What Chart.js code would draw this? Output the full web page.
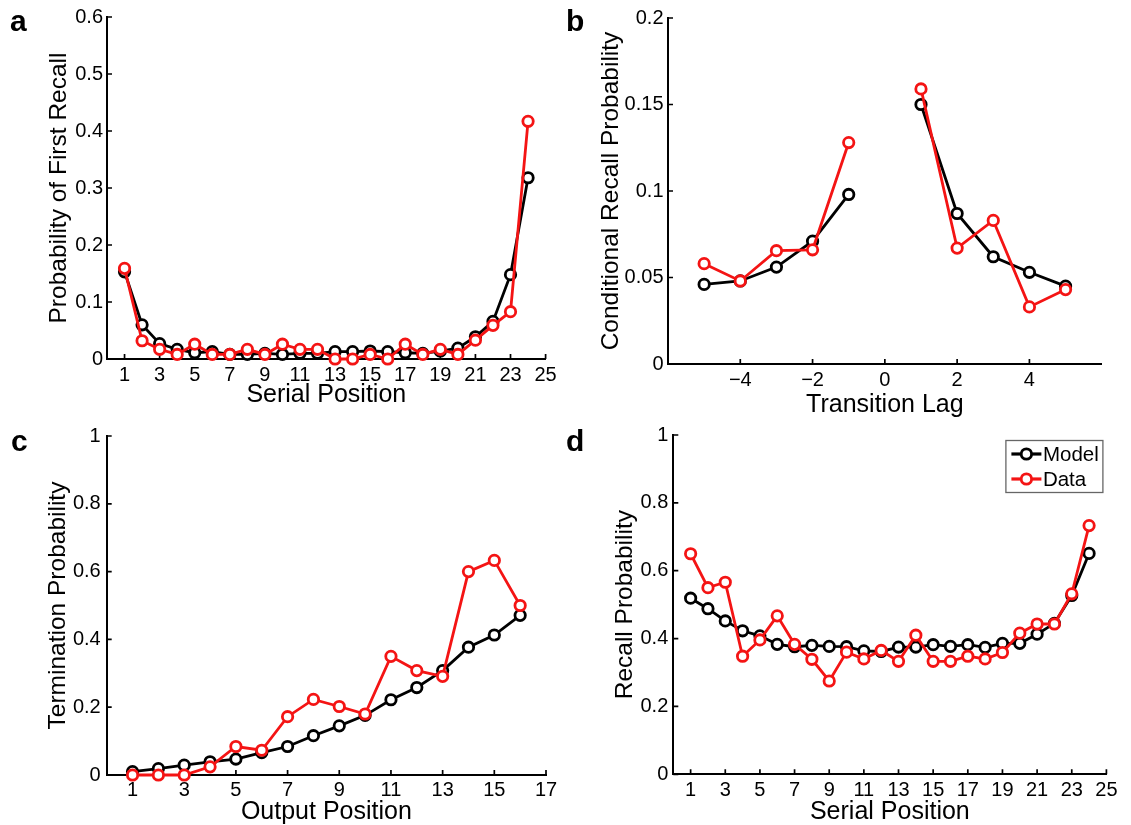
<!DOCTYPE html>
<html><head><meta charset="utf-8">
<script src="https://cdn.jsdelivr.net/npm/chart.js@4.4.1/dist/chart.umd.min.js"></script>
<style>
html,body{margin:0;padding:0;background:#fff;}
#wrap{position:relative;width:1131px;height:825px;overflow:hidden;background:#fff;}
canvas{position:absolute;}
.lbl{position:absolute;font:bold 30px "Liberation Sans",Arial,sans-serif;line-height:30px;color:#000;}
</style></head><body>
<div id="wrap">
<canvas id="ca" width="565" height="420" style="left:0;top:0"></canvas>
<canvas id="cb" width="566" height="420" style="left:565px;top:0"></canvas>
<canvas id="cc" width="565" height="405" style="left:0;top:420px"></canvas>
<canvas id="cd" width="566" height="405" style="left:565px;top:420px"></canvas>
<div class="lbl" style="left:10px;top:6px">a</div>
<div class="lbl" style="left:566px;top:6px">b</div>
<div class="lbl" style="left:11px;top:426px">c</div>
<div class="lbl" style="left:566px;top:426px">d</div>
</div>
<script>
// ---------- data ----------
const seriesNames = ['Model', 'Data'];

// Panel a: probability of first recall
const serialPos = [1,2,3,4,5,6,7,8,9,10,11,12,13,14,15,16,17,18,19,20,21,22,23,24];
const firstRecallModel = [0.153,0.060,0.027,0.017,0.011,0.013,0.008,0.008,0.010,0.008,0.010,0.010,0.013,0.013,0.014,0.013,0.011,0.010,0.014,0.019,0.039,0.066,0.148,0.318];
const firstRecallData  = [0.159,0.032,0.017,0.008,0.026,0.008,0.008,0.017,0.008,0.026,0.017,0.017,0.000,0.000,0.008,0.000,0.026,0.008,0.017,0.008,0.033,0.059,0.083,0.417];
const xTicksA = [1,3,5,7,9,11,13,15,17,19,21,23,25];
const yTicksA = [0,0.1,0.2,0.3,0.4,0.5,0.6];

// Panel b: lag-CRP
const lags = [-5,-4,-3,-2,-1,0,1,2,3,4,5];
const crpModel = [0.046,0.048,0.056,0.071,0.098,null,0.150,0.087,0.062,0.053,0.045];
const crpData  = [0.058,0.048,0.0655,0.066,0.128,null,0.159,0.067,0.083,0.033,0.043];
const xTicksB = [-4,-2,0,2,4];
const yTicksB = [0,0.05,0.1,0.15,0.2];

// Panel c: termination probability
const outputPos = [1,2,3,4,5,6,7,8,9,10,11,12,13,14,15,16];
const termModel = [0.010,0.019,0.029,0.039,0.047,0.066,0.084,0.116,0.145,0.176,0.222,0.258,0.308,0.377,0.413,0.471];
const termData  = [0.000,0.000,0.000,0.024,0.084,0.073,0.172,0.223,0.202,0.180,0.350,0.308,0.291,0.600,0.633,0.500];
const xTicksC = [1,3,5,7,9,11,13,15,17];
const yTicksC = [0,0.2,0.4,0.6,0.8,1];

// Panel d: recall probability by serial position
const recallModel = [0.519,0.488,0.452,0.423,0.408,0.383,0.376,0.380,0.377,0.376,0.364,0.362,0.375,0.375,0.382,0.377,0.382,0.374,0.386,0.386,0.413,0.445,0.527,0.651];
const recallData  = [0.650,0.550,0.566,0.348,0.396,0.467,0.383,0.339,0.275,0.360,0.340,0.365,0.333,0.410,0.333,0.333,0.348,0.340,0.359,0.416,0.443,0.443,0.532,0.733];
const xTicksD = [1,3,5,7,9,11,13,15,17,19,21,23,25];
const yTicksD = [0,0.2,0.4,0.6,0.8,1];

// ---------- drawing ----------
const FONT = '"Liberation Sans", Arial, Helvetica, sans-serif';
Chart.defaults.font.family = FONT;
Chart.defaults.color = '#000';
const RED = '#f41414';
const LW = 2.8, PR = 5.2;

const inwardTicks = {
  id: 'inwardTicks',
  beforeDatasetsDraw(chart) {
    const {ctx, chartArea: a, scales: {x, y}} = chart;
    ctx.save();
    ctx.strokeStyle = '#000';
    ctx.lineWidth = 1.7;
    ctx.beginPath();
    x.ticks.forEach(t => { const p = x.getPixelForValue(t.value); ctx.moveTo(p, a.bottom); ctx.lineTo(p, a.bottom - 5); });
    y.ticks.forEach(t => { const p = y.getPixelForValue(t.value); ctx.moveTo(a.left, p); ctx.lineTo(a.left + 5, p); });
    ctx.stroke();
    ctx.restore();
  }
};

const boxLegend = {
  id: 'boxLegend',
  afterDraw(chart, args, opts) {
    if (!opts.show) return;
    const {ctx, chartArea: a} = chart;
    const w = 97, h = 52;
    const left = a.right - 4 - w, top = a.top + 5;
    ctx.save();
    ctx.fillStyle = '#fff';
    ctx.fillRect(left, top, w, h);
    ctx.strokeStyle = '#666';
    ctx.lineWidth = 1.3;
    ctx.strokeRect(left + 0.5, top + 0.5, w, h);
    chart.data.datasets.forEach((ds, i) => {
      const cy = top + 14 + i * 25;
      ctx.strokeStyle = ds.borderColor;
      ctx.lineWidth = ds.borderWidth + 0.4;
      ctx.beginPath(); ctx.moveTo(left + 6, cy); ctx.lineTo(left + 36, cy); ctx.stroke();
      ctx.beginPath(); ctx.arc(left + 21, cy, ds.pointRadius, 0, Math.PI * 2);
      ctx.fillStyle = '#fff'; ctx.fill();
      ctx.lineWidth = ds.pointBorderWidth; ctx.stroke();
      ctx.fillStyle = '#000';
      ctx.font = '20.5px ' + FONT;
      ctx.textBaseline = 'middle';
      ctx.textAlign = 'left';
      ctx.fillText(ds.label, left + 37.5, cy + 1);
    });
    ctx.restore();
  }
};

function fmt(v) { return String(v).replace('-', '\u2212'); }

function mkDataset(label, color, xs, ys, order) {
  return {
    label, order,
    data: xs.map((x, i) => ({x, y: ys[i]})),
    borderColor: color, backgroundColor: '#fff',
    pointBackgroundColor: '#fff', pointBorderColor: color,
    borderWidth: LW, pointRadius: PR, pointBorderWidth: LW, pointHoverRadius: PR,
    tension: 0, spanGaps: false, clip: false
  };
}

function panel(id, xs, model, data, xTicks, yTicks, g) {
  new Chart(document.getElementById(id), {
    type: 'line',
    data: {
      datasets: [
        mkDataset(seriesNames[0], '#000', xs, model, 2),
        mkDataset(seriesNames[1], RED, xs, data, 1)
      ]
    },
    options: {
      responsive: false, animation: false, devicePixelRatio: 1,
      layout: {padding: {top: g.padTop, right: g.padRight, left: 0, bottom: 0}},
      plugins: {legend: {display: false}, tooltip: {enabled: false}, boxLegend: {show: !!g.legend}},
      scales: {
        x: {
          type: 'linear', min: g.xmin, max: g.xmax,
          afterBuildTicks: s => { s.ticks = xTicks.map(v => ({value: v})); },
          afterFit: s => { s.height = g.xAxisH; },
          ticks: {autoSkip: false, maxRotation: 0, minRotation: 0, padding: g.xTickPad, color: '#000',
                  font: {size: 20, lineHeight: 1}, callback: v => fmt(v)},
          grid: {drawOnChartArea: false, drawTicks: false},
          border: {display: true, color: '#000', width: 2},
          title: {display: true, text: g.xTitle, color: '#000', font: {size: 25, lineHeight: 1},
                  padding: {top: 0, bottom: g.xTitlePad}}
        },
        y: {
          type: 'linear', min: g.ymin, max: g.ymax,
          afterBuildTicks: s => { s.ticks = yTicks.map(v => ({value: v})); },
          afterFit: s => { s.width = g.yAxisW; },
          ticks: {autoSkip: false, padding: g.yTickPad, color: '#000',
                  font: {size: 20, lineHeight: 1}, callback: v => fmt(v)},
          grid: {drawOnChartArea: false, drawTicks: false},
          border: {display: true, color: '#000', width: 2},
          title: {display: true, text: g.yTitle, color: '#000', font: {size: 24.5, lineHeight: 1},
                  padding: {top: g.yTitlePad, bottom: 0}}
        }
      }
    },
    plugins: [inwardTicks, boxLegend]
  });
}

panel('ca', serialPos, firstRecallModel, firstRecallData, xTicksA, yTicksA, {
  xmin: 0, xmax: 25, ymin: 0, ymax: 0.6,
  padTop: 17, padRight: 19.4, yAxisW: 107, xAxisH: 61,
  xTickPad: 6.2, yTickPad: 4, xTitlePad: 11.9, yTitlePad: 46.8,
  xTitle: 'Serial Position', yTitle: 'Probability of First Recall'
});
panel('cb', lags, crpModel, crpData, xTicksB, yTicksB, {
  xmin: -6, xmax: 6, ymin: 0, ymax: 0.2,
  padTop: 18, padRight: 29.3, yAxisW: 103, xAxisH: 56,
  xTickPad: 6.2, yTickPad: 4.5, xTitlePad: 2.5, yTitlePad: 33.8,
  xTitle: 'Transition Lag', yTitle: 'Conditional Recall Probability'
});
panel('cc', outputPos, termModel, termData, xTicksC, yTicksC, {
  xmin: 0, xmax: 17, ymin: 0, ymax: 1,
  padTop: 11.7, padRight: 19, yAxisW: 106.7, xAxisH: 50,
  xTickPad: 5.1, yTickPad: 6, xTitlePad: 0.8, yTitlePad: 46.2,
  xTitle: 'Output Position', yTitle: 'Termination Probability'
});
panel('cd', serialPos, recallModel, recallData, xTicksD, yTicksD, {
  xmin: 0, xmax: 25, ymin: 0, ymax: 1,
  padTop: 11, padRight: 24.6, yAxisW: 108.3, xAxisH: 50.7,
  xTickPad: 5.8, yTickPad: 5, xTitlePad: 0.8, yTitlePad: 47.8,
  xTitle: 'Serial Position', yTitle: 'Recall Probability', legend: true
});
</script>
</body></html>
